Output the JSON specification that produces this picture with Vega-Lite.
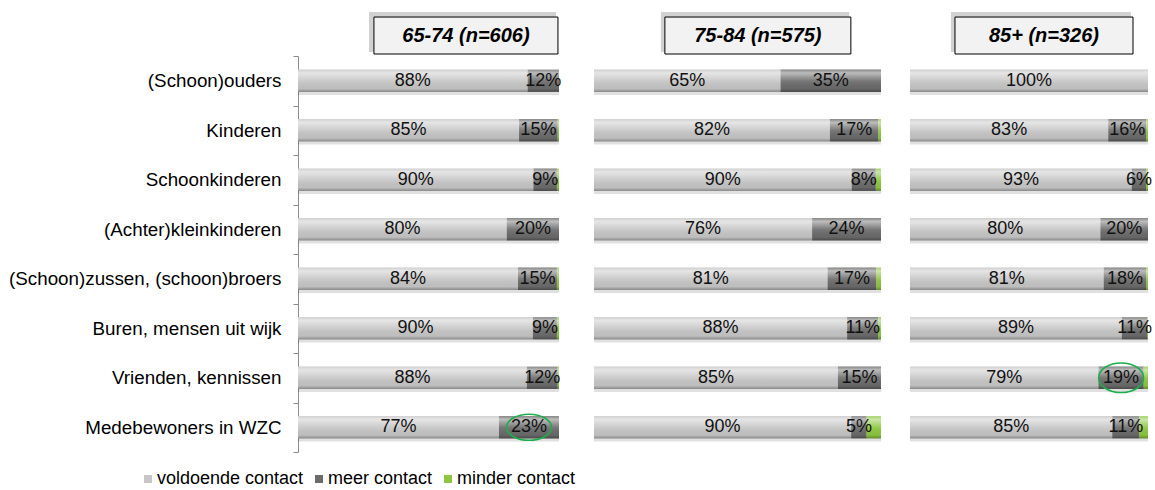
{
 "$schema": "https://vega.github.io/schema/vega-lite/v6.json",
 "padding": {"left": 8, "top": 12, "right": 0, "bottom": 2},
 "config": {
  "font": "Liberation Sans",
  "view": {"stroke": null}
 },
 "datasets": {
  "d": [
   {"group":"65-74","cat":"(Schoon)ouders","type":"voldoende contact","ord":1,"v":0.88},
   {"group":"65-74","cat":"(Schoon)ouders","type":"meer contact","ord":2,"v":0.12},
   {"group":"65-74","cat":"(Schoon)ouders","type":"minder contact","ord":3,"v":0},
   {"group":"65-74","cat":"Kinderen","type":"voldoende contact","ord":1,"v":0.847},
   {"group":"65-74","cat":"Kinderen","type":"meer contact","ord":2,"v":0.148},
   {"group":"65-74","cat":"Kinderen","type":"minder contact","ord":3,"v":0.005},
   {"group":"65-74","cat":"Schoonkinderen","type":"voldoende contact","ord":1,"v":0.902},
   {"group":"65-74","cat":"Schoonkinderen","type":"meer contact","ord":2,"v":0.09},
   {"group":"65-74","cat":"Schoonkinderen","type":"minder contact","ord":3,"v":0.008},
   {"group":"65-74","cat":"(Achter)kleinkinderen","type":"voldoende contact","ord":1,"v":0.8},
   {"group":"65-74","cat":"(Achter)kleinkinderen","type":"meer contact","ord":2,"v":0.2},
   {"group":"65-74","cat":"(Achter)kleinkinderen","type":"minder contact","ord":3,"v":0},
   {"group":"65-74","cat":"(Schoon)zussen, (schoon)broers","type":"voldoende contact","ord":1,"v":0.843},
   {"group":"65-74","cat":"(Schoon)zussen, (schoon)broers","type":"meer contact","ord":2,"v":0.149},
   {"group":"65-74","cat":"(Schoon)zussen, (schoon)broers","type":"minder contact","ord":3,"v":0.008},
   {"group":"65-74","cat":"Buren, mensen uit wijk","type":"voldoende contact","ord":1,"v":0.9},
   {"group":"65-74","cat":"Buren, mensen uit wijk","type":"meer contact","ord":2,"v":0.092},
   {"group":"65-74","cat":"Buren, mensen uit wijk","type":"minder contact","ord":3,"v":0.008},
   {"group":"65-74","cat":"Vrienden, kennissen","type":"voldoende contact","ord":1,"v":0.877},
   {"group":"65-74","cat":"Vrienden, kennissen","type":"meer contact","ord":2,"v":0.118},
   {"group":"65-74","cat":"Vrienden, kennissen","type":"minder contact","ord":3,"v":0.005},
   {"group":"65-74","cat":"Medebewoners in WZC","type":"voldoende contact","ord":1,"v":0.77},
   {"group":"65-74","cat":"Medebewoners in WZC","type":"meer contact","ord":2,"v":0.23},
   {"group":"65-74","cat":"Medebewoners in WZC","type":"minder contact","ord":3,"v":0},

   {"group":"75-84","cat":"(Schoon)ouders","type":"voldoende contact","ord":1,"v":0.65},
   {"group":"75-84","cat":"(Schoon)ouders","type":"meer contact","ord":2,"v":0.35},
   {"group":"75-84","cat":"(Schoon)ouders","type":"minder contact","ord":3,"v":0},
   {"group":"75-84","cat":"Kinderen","type":"voldoende contact","ord":1,"v":0.822},
   {"group":"75-84","cat":"Kinderen","type":"meer contact","ord":2,"v":0.169},
   {"group":"75-84","cat":"Kinderen","type":"minder contact","ord":3,"v":0.009},
   {"group":"75-84","cat":"Schoonkinderen","type":"voldoende contact","ord":1,"v":0.898},
   {"group":"75-84","cat":"Schoonkinderen","type":"meer contact","ord":2,"v":0.084},
   {"group":"75-84","cat":"Schoonkinderen","type":"minder contact","ord":3,"v":0.018},
   {"group":"75-84","cat":"(Achter)kleinkinderen","type":"voldoende contact","ord":1,"v":0.76},
   {"group":"75-84","cat":"(Achter)kleinkinderen","type":"meer contact","ord":2,"v":0.24},
   {"group":"75-84","cat":"(Achter)kleinkinderen","type":"minder contact","ord":3,"v":0},
   {"group":"75-84","cat":"(Schoon)zussen, (schoon)broers","type":"voldoende contact","ord":1,"v":0.814},
   {"group":"75-84","cat":"(Schoon)zussen, (schoon)broers","type":"meer contact","ord":2,"v":0.17},
   {"group":"75-84","cat":"(Schoon)zussen, (schoon)broers","type":"minder contact","ord":3,"v":0.016},
   {"group":"75-84","cat":"Buren, mensen uit wijk","type":"voldoende contact","ord":1,"v":0.882},
   {"group":"75-84","cat":"Buren, mensen uit wijk","type":"meer contact","ord":2,"v":0.109},
   {"group":"75-84","cat":"Buren, mensen uit wijk","type":"minder contact","ord":3,"v":0.009},
   {"group":"75-84","cat":"Vrienden, kennissen","type":"voldoende contact","ord":1,"v":0.85},
   {"group":"75-84","cat":"Vrienden, kennissen","type":"meer contact","ord":2,"v":0.15},
   {"group":"75-84","cat":"Vrienden, kennissen","type":"minder contact","ord":3,"v":0},
   {"group":"75-84","cat":"Medebewoners in WZC","type":"voldoende contact","ord":1,"v":0.896},
   {"group":"75-84","cat":"Medebewoners in WZC","type":"meer contact","ord":2,"v":0.054},
   {"group":"75-84","cat":"Medebewoners in WZC","type":"minder contact","ord":3,"v":0.05},

   {"group":"85+","cat":"(Schoon)ouders","type":"voldoende contact","ord":1,"v":1.0},
   {"group":"85+","cat":"(Schoon)ouders","type":"meer contact","ord":2,"v":0},
   {"group":"85+","cat":"(Schoon)ouders","type":"minder contact","ord":3,"v":0},
   {"group":"85+","cat":"Kinderen","type":"voldoende contact","ord":1,"v":0.833},
   {"group":"85+","cat":"Kinderen","type":"meer contact","ord":2,"v":0.159},
   {"group":"85+","cat":"Kinderen","type":"minder contact","ord":3,"v":0.008},
   {"group":"85+","cat":"Schoonkinderen","type":"voldoende contact","ord":1,"v":0.932},
   {"group":"85+","cat":"Schoonkinderen","type":"meer contact","ord":2,"v":0.06},
   {"group":"85+","cat":"Schoonkinderen","type":"minder contact","ord":3,"v":0.008},
   {"group":"85+","cat":"(Achter)kleinkinderen","type":"voldoende contact","ord":1,"v":0.8},
   {"group":"85+","cat":"(Achter)kleinkinderen","type":"meer contact","ord":2,"v":0.2},
   {"group":"85+","cat":"(Achter)kleinkinderen","type":"minder contact","ord":3,"v":0},
   {"group":"85+","cat":"(Schoon)zussen, (schoon)broers","type":"voldoende contact","ord":1,"v":0.814},
   {"group":"85+","cat":"(Schoon)zussen, (schoon)broers","type":"meer contact","ord":2,"v":0.178},
   {"group":"85+","cat":"(Schoon)zussen, (schoon)broers","type":"minder contact","ord":3,"v":0.008},
   {"group":"85+","cat":"Buren, mensen uit wijk","type":"voldoende contact","ord":1,"v":0.89},
   {"group":"85+","cat":"Buren, mensen uit wijk","type":"meer contact","ord":2,"v":0.108},
   {"group":"85+","cat":"Buren, mensen uit wijk","type":"minder contact","ord":3,"v":0.002},
   {"group":"85+","cat":"Vrienden, kennissen","type":"voldoende contact","ord":1,"v":0.792},
   {"group":"85+","cat":"Vrienden, kennissen","type":"meer contact","ord":2,"v":0.19},
   {"group":"85+","cat":"Vrienden, kennissen","type":"minder contact","ord":3,"v":0.018},
   {"group":"85+","cat":"Medebewoners in WZC","type":"voldoende contact","ord":1,"v":0.85},
   {"group":"85+","cat":"Medebewoners in WZC","type":"meer contact","ord":2,"v":0.114},
   {"group":"85+","cat":"Medebewoners in WZC","type":"minder contact","ord":3,"v":0.036}
  ]
 },
 "data": {"name": "d"},
 "spacing": 32,
 "hconcat": [
  {
   "spacing": 2,
   "bounds": "flush",
   "vconcat": [
    {
     "width": 261, "height": 42,
     "data": {"values": [{"h": "65-74 (n=606)"}]},
     "layer": [
      {"mark": {"type": "rect", "fill": "#bdbdbd", "opacity": 0.7},
       "encoding": {"x": {"datum": 0.272, "type": "quantitative", "scale": {"domain": [0, 1]}, "axis": null}, "x2": {"datum": 0.989},
                    "y": {"datum": 0.05, "type": "quantitative", "scale": {"domain": [0, 1]}, "axis": null}, "y2": {"datum": 1}}},
      {"mark": {"type": "rect", "fill": "#f2f2f2", "stroke": "#000", "strokeWidth": 1},
       "encoding": {"x": {"datum": 0.291, "type": "quantitative", "axis": null}, "x2": {"datum": 0.996},
                    "y": {"datum": 0, "type": "quantitative", "axis": null}, "y2": {"datum": 0.88}}},
      {"mark": {"type": "text", "fontSize": 20, "fontWeight": "bold", "fontStyle": "italic", "color": "#000"},
       "encoding": {"x": {"datum": 0.6435, "type": "quantitative", "axis": null}, "y": {"datum": 0.44, "type": "quantitative", "axis": null}, "text": {"field": "h"}}}
     ]
    },
    {
     "width": 261, "height": 396,
     "transform": [{"filter": "datum.group === '65-74'"}],
     "encoding": {"y": {"field": "cat", "type": "nominal",
       "sort": ["(Schoon)ouders", "Kinderen", "Schoonkinderen", "(Achter)kleinkinderen", "(Schoon)zussen, (schoon)broers", "Buren, mensen uit wijk", "Vrienden, kennissen", "Medebewoners in WZC"],
       "scale": {"paddingInner": 0, "paddingOuter": 0},
       "axis": {"title": null, "labelFontSize": 18.8, "labelColor": "#000", "labelPadding": 12, "tickSize": 5, "tickBand": "extent", "domainColor": "#8c8c8c", "tickColor": "#8c8c8c", "labelLimit": 400, "grid": false}}},
     "layer": [
      {"mark": {"type": "bar", "height": {"band": 0.45}, "yOffset": 3, "fill": "#000", "opacity": 0.12},
       "encoding": {"x": {"aggregate": "sum", "field": "v", "type": "quantitative", "scale": {"domain": [0, 1]}, "axis": null}}},
      {"mark": {"type": "bar", "height": {"band": 0.45}},
       "encoding": {"x": {"field": "v", "type": "quantitative", "stack": "zero", "axis": null},
        "color": {"field": "type", "type": "nominal",
          "scale": {"domain": ["voldoende contact", "meer contact", "minder contact"], "range": ["#c6c6c6", "#6b6b6b", "#8dc63f"]},
          "legend": {"title": null, "orient": "none", "legendX": -159, "legendY": 458, "direction": "horizontal", "symbolType": "square", "symbolSize": 64, "labelFontSize": 18, "labelColor": "#000", "columnPadding": 6, "labelOffset": 0}},
        "order": {"field": "ord", "type": "quantitative"}}},
      {"mark": {"type": "bar", "height": {"band": 0.45},
        "fill": {"gradient": "linear", "x1": 0, "y1": 0, "x2": 0, "y2": 1, "stops": [{"offset": 0, "color": "rgba(255,255,255,0.2)"}, {"offset": 0.15, "color": "rgba(255,255,255,0.55)"}, {"offset": 0.5, "color": "rgba(255,255,255,0.1)"}, {"offset": 0.85, "color": "rgba(0,0,0,0.04)"}, {"offset": 1, "color": "rgba(0,0,0,0.3)"}]}},
       "encoding": {"x": {"aggregate": "sum", "field": "v", "type": "quantitative", "axis": null}}},
      {"transform": [{"filter": "datum.ord < 3 && datum.v > 0"}, {"stack": "v", "groupby": ["cat"], "sort": [{"field": "ord"}], "as": ["v0", "v1"]}, {"fold": ["v0", "v1"], "as": ["edge", "pos"]}],
       "layer": [
        {"mark": {"type": "text", "fontSize": 18, "color": "#111"},
         "encoding": {"x": {"aggregate": "mean", "field": "pos", "type": "quantitative", "stack": null, "axis": null}, "text": {"field": "v", "type": "quantitative", "format": ".0%"}, "detail": {"field": "type"}}},
        {"transform": [{"filter": "datum.cat === 'Medebewoners in WZC' && datum.type === 'meer contact'"}],
         "mark": {"type": "point", "shape": "M -1 0 A 1 0.58 0 1 0 1 0 A 1 0.58 0 1 0 -1 0 Z", "size": 2025, "filled": false, "stroke": "#1fae4b", "strokeWidth": 1.5, "opacity": 1},
         "encoding": {"x": {"aggregate": "mean", "field": "pos", "type": "quantitative", "stack": null, "axis": null}}}
       ]}
     ]
    }
   ]
  },
  {
   "spacing": 29,
   "hconcat": [
    {
     "spacing": 2,
     "bounds": "flush",
     "vconcat": [
      {
       "width": 287, "height": 42,
       "data": {"values": [{"h": "75-84 (n=575)"}]},
       "layer": [
        {"mark": {"type": "rect", "fill": "#bdbdbd", "opacity": 0.7},
         "encoding": {"x": {"datum": 0.233, "type": "quantitative", "scale": {"domain": [0, 1]}, "axis": null}, "x2": {"datum": 0.889},
                      "y": {"datum": 0.05, "type": "quantitative", "scale": {"domain": [0, 1]}, "axis": null}, "y2": {"datum": 1}}},
        {"mark": {"type": "rect", "fill": "#f2f2f2", "stroke": "#000", "strokeWidth": 1},
         "encoding": {"x": {"datum": 0.247, "type": "quantitative", "axis": null}, "x2": {"datum": 0.895},
                      "y": {"datum": 0, "type": "quantitative", "axis": null}, "y2": {"datum": 0.88}}},
        {"mark": {"type": "text", "fontSize": 20, "fontWeight": "bold", "fontStyle": "italic", "color": "#000"},
         "encoding": {"x": {"datum": 0.571, "type": "quantitative", "axis": null}, "y": {"datum": 0.44, "type": "quantitative", "axis": null}, "text": {"field": "h"}}}
       ]
      },
      {
       "width": 287, "height": 396,
       "transform": [{"filter": "datum.group === '75-84'"}],
       "encoding": {"y": {"field": "cat", "type": "nominal",
         "sort": ["(Schoon)ouders", "Kinderen", "Schoonkinderen", "(Achter)kleinkinderen", "(Schoon)zussen, (schoon)broers", "Buren, mensen uit wijk", "Vrienden, kennissen", "Medebewoners in WZC"],
         "scale": {"paddingInner": 0, "paddingOuter": 0}, "axis": null}},
       "layer": [
        {"mark": {"type": "bar", "height": {"band": 0.45}, "yOffset": 3, "fill": "#000", "opacity": 0.12},
         "encoding": {"x": {"aggregate": "sum", "field": "v", "type": "quantitative", "scale": {"domain": [0, 1]}, "axis": null}}},
        {"mark": {"type": "bar", "height": {"band": 0.45}},
         "encoding": {"x": {"field": "v", "type": "quantitative", "stack": "zero", "axis": null},
          "color": {"field": "type", "type": "nominal",
            "scale": {"domain": ["voldoende contact", "meer contact", "minder contact"], "range": ["#c6c6c6", "#6b6b6b", "#8dc63f"]},
            "legend": {"title": null, "orient": "none", "legendX": -159, "legendY": 458, "direction": "horizontal", "symbolType": "square", "symbolSize": 64, "labelFontSize": 18, "labelColor": "#000", "columnPadding": 6, "labelOffset": 0}},
          "order": {"field": "ord", "type": "quantitative"}}},
        {"mark": {"type": "bar", "height": {"band": 0.45},
          "fill": {"gradient": "linear", "x1": 0, "y1": 0, "x2": 0, "y2": 1, "stops": [{"offset": 0, "color": "rgba(255,255,255,0.2)"}, {"offset": 0.15, "color": "rgba(255,255,255,0.55)"}, {"offset": 0.5, "color": "rgba(255,255,255,0.1)"}, {"offset": 0.85, "color": "rgba(0,0,0,0.04)"}, {"offset": 1, "color": "rgba(0,0,0,0.3)"}]}},
         "encoding": {"x": {"aggregate": "sum", "field": "v", "type": "quantitative", "axis": null}}},
        {"transform": [{"filter": "datum.ord < 3 && datum.v > 0"}, {"stack": "v", "groupby": ["cat"], "sort": [{"field": "ord"}], "as": ["v0", "v1"]}, {"fold": ["v0", "v1"], "as": ["edge", "pos"]}],
         "mark": {"type": "text", "fontSize": 18, "color": "#111"},
         "encoding": {"x": {"aggregate": "mean", "field": "pos", "type": "quantitative", "stack": null, "axis": null}, "text": {"field": "v", "type": "quantitative", "format": ".0%"}, "detail": {"field": "type"}}}
       ]
      }
     ]
    },
    {
     "spacing": 2,
     "bounds": "flush",
     "vconcat": [
      {
       "width": 238, "height": 42,
       "data": {"values": [{"h": "85+ (n=326)"}]},
       "layer": [
        {"mark": {"type": "rect", "fill": "#bdbdbd", "opacity": 0.7},
         "encoding": {"x": {"datum": 0.172, "type": "quantitative", "scale": {"domain": [0, 1]}, "axis": null}, "x2": {"datum": 0.928},
                      "y": {"datum": 0.05, "type": "quantitative", "scale": {"domain": [0, 1]}, "axis": null}, "y2": {"datum": 1}}},
        {"mark": {"type": "rect", "fill": "#f2f2f2", "stroke": "#000", "strokeWidth": 1},
         "encoding": {"x": {"datum": 0.189, "type": "quantitative", "axis": null}, "x2": {"datum": 0.937},
                      "y": {"datum": 0, "type": "quantitative", "axis": null}, "y2": {"datum": 0.88}}},
        {"mark": {"type": "text", "fontSize": 20, "fontWeight": "bold", "fontStyle": "italic", "color": "#000"},
         "encoding": {"x": {"datum": 0.563, "type": "quantitative", "axis": null}, "y": {"datum": 0.44, "type": "quantitative", "axis": null}, "text": {"field": "h"}}}
       ]
      },
      {
       "width": 238, "height": 396,
       "transform": [{"filter": "datum.group === '85+'"}],
       "encoding": {"y": {"field": "cat", "type": "nominal",
         "sort": ["(Schoon)ouders", "Kinderen", "Schoonkinderen", "(Achter)kleinkinderen", "(Schoon)zussen, (schoon)broers", "Buren, mensen uit wijk", "Vrienden, kennissen", "Medebewoners in WZC"],
         "scale": {"paddingInner": 0, "paddingOuter": 0}, "axis": null}},
       "layer": [
        {"mark": {"type": "bar", "height": {"band": 0.45}, "yOffset": 3, "fill": "#000", "opacity": 0.12},
         "encoding": {"x": {"aggregate": "sum", "field": "v", "type": "quantitative", "scale": {"domain": [0, 1]}, "axis": null}}},
        {"mark": {"type": "bar", "height": {"band": 0.45}},
         "encoding": {"x": {"field": "v", "type": "quantitative", "stack": "zero", "axis": null},
          "color": {"field": "type", "type": "nominal",
            "scale": {"domain": ["voldoende contact", "meer contact", "minder contact"], "range": ["#c6c6c6", "#6b6b6b", "#8dc63f"]},
            "legend": {"title": null, "orient": "none", "legendX": -159, "legendY": 458, "direction": "horizontal", "symbolType": "square", "symbolSize": 64, "labelFontSize": 18, "labelColor": "#000", "columnPadding": 6, "labelOffset": 0}},
          "order": {"field": "ord", "type": "quantitative"}}},
        {"mark": {"type": "bar", "height": {"band": 0.45},
          "fill": {"gradient": "linear", "x1": 0, "y1": 0, "x2": 0, "y2": 1, "stops": [{"offset": 0, "color": "rgba(255,255,255,0.2)"}, {"offset": 0.15, "color": "rgba(255,255,255,0.55)"}, {"offset": 0.5, "color": "rgba(255,255,255,0.1)"}, {"offset": 0.85, "color": "rgba(0,0,0,0.04)"}, {"offset": 1, "color": "rgba(0,0,0,0.3)"}]}},
         "encoding": {"x": {"aggregate": "sum", "field": "v", "type": "quantitative", "axis": null}}},
        {"transform": [{"filter": "datum.ord < 3 && datum.v > 0"}, {"stack": "v", "groupby": ["cat"], "sort": [{"field": "ord"}], "as": ["v0", "v1"]}, {"fold": ["v0", "v1"], "as": ["edge", "pos"]}],
         "layer": [
          {"mark": {"type": "text", "fontSize": 18, "color": "#111"},
           "encoding": {"x": {"aggregate": "mean", "field": "pos", "type": "quantitative", "stack": null, "axis": null}, "text": {"field": "v", "type": "quantitative", "format": ".0%"}, "detail": {"field": "type"}}},
          {"transform": [{"filter": "datum.cat === 'Vrienden, kennissen' && datum.type === 'meer contact'"}],
           "mark": {"type": "point", "shape": "M -1 0 A 1 0.66 0 1 0 1 0 A 1 0.66 0 1 0 -1 0 Z", "size": 2025, "filled": false, "stroke": "#1fae4b", "strokeWidth": 1.5, "opacity": 1},
           "encoding": {"x": {"aggregate": "mean", "field": "pos", "type": "quantitative", "stack": null, "axis": null}}}
         ]}
       ]
      }
     ]
    }
   ]
  }
 ]
}
